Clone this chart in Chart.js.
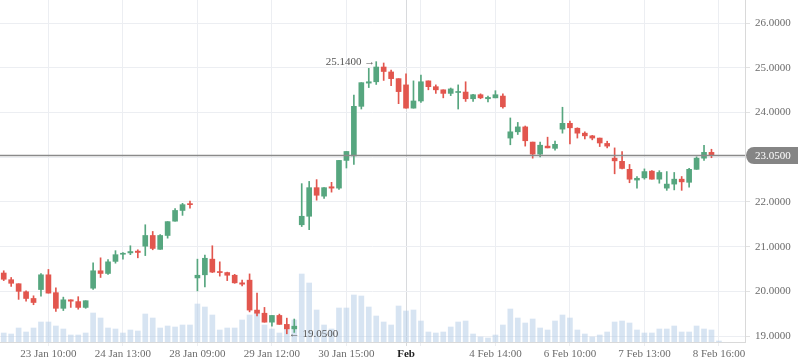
<!DOCTYPE html>
<html>
<head>
<meta charset="utf-8">
<script src="https://cdn.jsdelivr.net/npm/chart.js@4.4.1/dist/chart.umd.min.js"></script>
<style>
  html, body { margin: 0; padding: 0; background: #fff; }
  #wrap { width: 798px; height: 363px; position: relative; }
</style>
</head>
<body>
<div id="wrap"><canvas id="chart"></canvas></div>
<script>
// candles, one per slot (0..95); slots 96..99 are empty space on the right
const opens  = [20.41,20.26,20.17,19.99,19.84,20.04,20.37,19.97,19.62,19.81,19.77,19.64,20.07,20.46,20.40,20.67,20.83,20.86,20.90,21.01,
                21.25,20.94,21.25,21.57,21.81,21.96,20.30,20.37,20.72,20.44,20.42,20.36,20.19,20.25,19.58,19.51,19.31,19.46,19.26,19.16,
                21.49,21.68,22.32,22.13,22.34,22.31,22.93,23.03,24.14,24.66,24.69,25.02,24.91,24.76,24.62,24.10,24.26,24.71,24.58,24.51,
                24.43,24.45,24.46,24.31,24.40,24.31,24.33,24.37,23.43,23.57,23.68,23.34,23.07,23.25,23.20,23.63,23.76,23.65,23.54,23.48,
                23.43,23.31,22.98,22.91,22.73,22.49,22.54,22.69,22.51,22.31,22.40,22.51,22.44,22.73,22.98,23.11];
const highs  = [20.46,20.31,20.17,20.01,19.90,20.40,20.49,20.08,19.87,19.81,19.88,19.79,20.64,20.75,20.71,20.91,20.87,21.02,20.93,21.49,
                21.34,21.27,21.56,21.85,21.97,22.02,20.72,20.81,21.02,20.66,20.43,20.38,20.25,20.39,19.96,19.64,19.46,19.49,19.40,19.38,
                22.41,22.46,22.50,22.32,22.44,22.93,23.13,24.39,24.67,24.99,25.14,25.11,24.95,24.76,24.87,24.71,24.84,24.71,24.62,24.51,
                24.55,24.62,24.69,24.41,24.42,24.37,24.49,24.42,23.88,23.78,23.70,23.34,23.34,23.45,23.36,24.12,23.81,23.66,23.57,23.49,
                23.43,23.36,23.21,23.13,22.84,22.57,22.74,22.70,22.70,22.68,22.66,22.57,22.75,23.01,23.27,23.18];
const lows   = [20.24,20.11,19.82,19.78,19.70,19.89,19.96,19.55,19.57,19.64,19.60,19.62,20.04,20.31,20.38,20.63,20.72,20.82,20.75,20.80,
                20.93,20.94,21.19,21.57,21.70,21.86,20.01,20.10,20.42,20.34,20.24,20.18,20.12,19.54,19.45,19.31,19.22,19.26,19.05,19.08,
                21.45,21.38,22.04,22.08,22.22,22.28,22.76,22.84,24.08,24.56,24.63,24.72,24.60,24.20,24.10,24.10,24.23,24.51,24.43,24.33,
                24.38,24.08,24.25,24.25,24.31,24.24,24.33,24.10,23.28,23.51,23.25,22.98,23.01,23.21,23.16,23.54,23.30,23.43,23.41,23.39,
                23.24,23.21,22.63,22.74,22.43,22.31,22.51,22.51,22.42,22.26,22.27,22.26,22.33,22.73,22.93,22.99];
const closes = [20.27,20.18,20.00,19.84,19.75,20.37,19.96,19.62,19.81,19.78,19.64,19.79,20.46,20.40,20.66,20.82,20.85,20.89,20.87,21.25,
                20.96,21.25,21.56,21.81,21.94,21.94,20.36,20.74,20.43,20.42,20.36,20.19,20.16,19.58,19.51,19.31,19.46,19.26,19.16,19.22,
                21.68,22.32,22.15,22.32,22.31,22.93,23.13,24.14,24.67,24.69,25.02,24.92,24.76,24.47,24.10,24.26,24.69,24.58,24.51,24.43,
                24.53,24.47,24.31,24.40,24.33,24.34,24.40,24.13,23.57,23.68,23.37,23.07,23.27,23.21,23.29,23.76,23.66,23.54,23.48,23.43,
                23.32,23.25,22.92,22.75,22.51,22.53,22.68,22.51,22.66,22.40,22.51,22.45,22.73,22.98,23.11,23.05];
const volumes = [9,8,14,10,14,20,20,16,13,7,7,9,29,24,14,13,9,12,11,28,
                 24,14,16,15,17,17,38,35,27,12,14,14,22,27,29,17,13,9,13,22,
                 68,59,32,17,13,34,34,47,46,35,26,20,17,36,31,32,21,10,9,10,
                 15,20,21,8,5,4,7,17,33,24,19,23,14,12,21,27,24,12,8,5,
                 7,10,20,21,19,12,9,9,13,13,16,10,10,16,13,12,1].map(v => v * 1000);

const slotCount = 100;
const tickIndex = [6, 16, 26, 36, 46, 54, 56, 66, 76, 86, 96];
const tickText  = ["23 Jan 10:00", "24 Jan 13:00", "28 Jan 09:00", "29 Jan 12:00", "30 Jan 15:00",
                   "Feb", "", "4 Feb 14:00", "6 Feb 10:00", "7 Feb 13:00", "8 Feb 16:00"];
const monthTick = 54;

const upColor = "#56a67f";
const downColor = "#e2564e";
const volColor = "rgba(176,202,230,0.5)";
const gridColor = "#eceef2";
const textColor = "#6b6b6b";
const fontFamily = "'Liberation Serif', 'DejaVu Serif', serif";

const candleColors = opens.map((o, i) => closes[i] >= o ? upColor : downColor);

function tickLabel(i) {
  const k = tickIndex.indexOf(i);
  return k < 0 ? null : tickText[k];
}

const priceLines = {
  id: "priceLines",
  afterDraw(chart) {
    const { ctx, chartArea, scales } = chart;
    const x = scales.x, y = scales.y;
    const last = closes[closes.length - 1];
    const py = Math.round(y.getPixelForValue(last)) + 0.5;

    ctx.save();
    ctx.strokeStyle = "#8a8a8a";
    ctx.lineWidth = 1.5;
    ctx.beginPath();
    ctx.moveTo(chartArea.left, py);
    ctx.lineTo(chartArea.right, py);
    ctx.stroke();

    // last price tag
    const r = chartArea.right;
    ctx.fillStyle = "#858585";
    ctx.beginPath();
    ctx.moveTo(r + 1, py);
    ctx.quadraticCurveTo(r + 2, py - 8.5, r + 9, py - 8.5);
    ctx.lineTo(chart.width, py - 8.5);
    ctx.lineTo(chart.width, py + 8.5);
    ctx.lineTo(r + 9, py + 8.5);
    ctx.quadraticCurveTo(r + 2, py + 8.5, r + 1, py);
    ctx.fill();
    ctx.fillStyle = "#fff";
    ctx.font = "11px " + fontFamily;
    ctx.textBaseline = "middle";
    ctx.textAlign = "left";
    ctx.fillText(last.toFixed(4), r + 10, py + 0.5);

    // high / low markers
    let hi = 0, lo = 0;
    highs.forEach((h, i) => { if (h > highs[hi]) hi = i; });
    lows.forEach((l, i) => { if (l < lows[lo]) lo = i; });
    ctx.fillStyle = "#555";
    ctx.textAlign = "right";
    ctx.fillText(highs[hi].toFixed(4) + " \u2192", x.getPixelForValue(hi) - 1, y.getPixelForValue(highs[hi]));
    ctx.textAlign = "left";
    ctx.fillText("\u2190 " + lows[lo].toFixed(4), x.getPixelForValue(lo) + 2, y.getPixelForValue(lows[lo]));
    ctx.restore();
  }
};

new Chart(document.getElementById("chart"), {
  type: "bar",
  data: {
    labels: Array.from({ length: slotCount }, (_, i) => String(i)),
    datasets: [
      {
        label: "Volume",
        data: volumes,
        yAxisID: "vol",
        backgroundColor: volColor,
        barThickness: 5,
        grouped: false,
        order: 3
      },
      {
        label: "Wick",
        data: lows.map((l, i) => [l, highs[i]]),
        backgroundColor: candleColors,
        barThickness: 1,
        grouped: false,
        order: 2
      },
      {
        label: "Body",
        data: opens.map((o, i) => [o, closes[i]]),
        backgroundColor: candleColors,
        barThickness: 5,
        minBarLength: 1,
        grouped: false,
        order: 1
      }
    ]
  },
  options: {
    responsive: true,
    maintainAspectRatio: false,
    animation: false,
    layout: { padding: 0 },
    plugins: {
      legend: { display: false },
      tooltip: { enabled: false }
    },
    scales: {
      x: {
        offset: true,
        grid: {
          offset: false,
          tickLength: 4,
          color: c => {
            const t = tickLabel(c.index);
            if (t === null) return "rgba(0,0,0,0)";
            return c.index === monthTick ? "#d8dadd" : gridColor;
          }
        },
        border: { color: "#d9d9d9" },
        ticks: {
          autoSkip: false,
          maxRotation: 0,
          padding: 2,
          color: c => c.index === monthTick ? "#222" : textColor,
          font: c => ({ family: fontFamily, size: 11, weight: c.index === monthTick ? "bold" : "normal" }),
          callback: (v, i) => {
            const t = tickLabel(i);
            return t === null ? "" : t;
          }
        },
        afterFit: s => { s.height = 21; s.paddingLeft = 0; s.paddingRight = 0; }
      },
      y: {
        position: "right",
        min: 18.866,
        max: 26.52,
        grid: { color: gridColor, tickLength: 5, tickColor: "#e2e2e2" },
        border: { color: "#d9d9d9" },
        ticks: {
          stepSize: 1,
          includeBounds: false,
          padding: 5,
          color: textColor,
          font: { family: fontFamily, size: 11 },
          callback: v => Number(v).toFixed(4)
        },
        afterFit: s => { s.width = 53; s.paddingTop = 0; s.paddingBottom = 0; }
      },
      vol: {
        display: false,
        min: 0,
        max: 342000
      }
    }
  },
  plugins: [priceLines]
});
</script>
</body>
</html>
